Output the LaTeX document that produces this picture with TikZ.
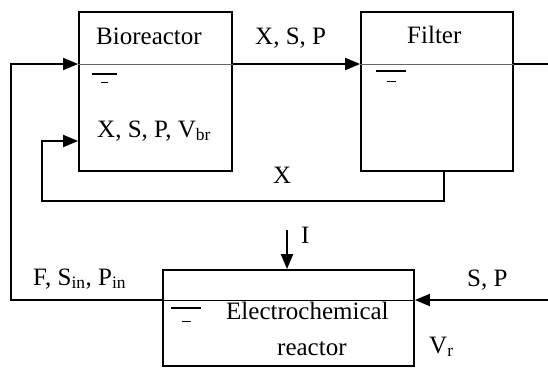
\documentclass[tikz,border=0pt]{standalone}
\usepackage{fontspec}
\setmainfont{Liberation Serif}
\usetikzlibrary{arrows.meta}

\begin{document}
\begin{tikzpicture}[x=1pt, y=-1pt, >={Triangle[length=15pt,width=12pt]},
    box/.style={draw, rectangle, line width=1.8pt, inner sep=0pt},
    flow/.style={line width=2pt},
    level/.style={line width=0.8pt, black!60},
    surf/.style={line width=2.5pt},
    lbl/.style={anchor=base west, inner sep=0pt, font=\fontsize{25}{30}\selectfont}]
    \useasboundingbox (0,0) rectangle (548,368);
    % tanks
    \node[box, minimum width=153pt, minimum height=159pt] (bio) at (155.5,91.5) {};
    \node[box, minimum width=152pt, minimum height=159pt] (filt) at (437,91.5) {};
    \node[box, minimum width=251pt, minimum height=96pt] (ecr) at (288.5,318) {};
    \coordinate (top) at (0,64);
    \coordinate (bot) at (0,300);
    \coordinate (out) at (548,64);
    \coordinate (feed) at (548,300);
    \coordinate (cur) at (287,230);
    \coordinate (fx) at (444,0);
    % liquid levels
    \draw[level] (bio.west |- top) -- (bio.east |- top);
    \draw[level] (filt.west |- top) -- (filt.east |- top);
    \draw[level, black] (ecr.west |- bot) -- (ecr.east |- bot);
    \draw[surf] (92,74) -- (117,74);
    \draw[thin] (101,82) -- (108,82);
    \draw[surf] (376,71) -- (406,71);
    \draw[thin] (387,81) -- (396,81);
    \draw[surf] (171,308) -- (201,308);
    \draw[thin] (182,321) -- (191,321);
    % streams
    \draw[flow, ->] (bio.east |- top) -- (filt.west |- top);
    \draw[flow] (filt.east |- top) -- (out);
    \draw[flow, ->] (ecr.west |- bot) -| (11,64) -- (bio.west |- top);
    \draw[flow, ->] (filt.south -| fx) |- (42,201) |- (bio.west |- 0,141);
    \draw[flow, ->] (feed) -- (ecr.east |- bot);
    \draw[flow, ->] (cur) -- (ecr.north -| cur);
    % labels
    \node[lbl] (tbio) at (96,44) {Bioreactor};
    \node[lbl] (tfilt) at (407,43) {Filter};
    \node[lbl] (txsp) at (255,44) {X, S, P};
    \node[lbl] (tstate) at (97,137) {X, S, P, V\textsubscript{br}};
    \node[lbl] (tx) at (273,183) {X};
    \node[lbl] (ti) at (301,243) {I};
    \node[lbl] (tin) at (33,285) {F, S\textsubscript{in}, P\textsubscript{in}};
    \node[lbl] (tsp) at (467,286) {S, P};
    \node[lbl] (tecr) at (226,319) {Electrochemical};
    \node[lbl] (tecr2) at (277,355) {reactor};
    \node[lbl] (tvr) at (429,353) {V\textsubscript{r}};
\end{tikzpicture}
\end{document}
